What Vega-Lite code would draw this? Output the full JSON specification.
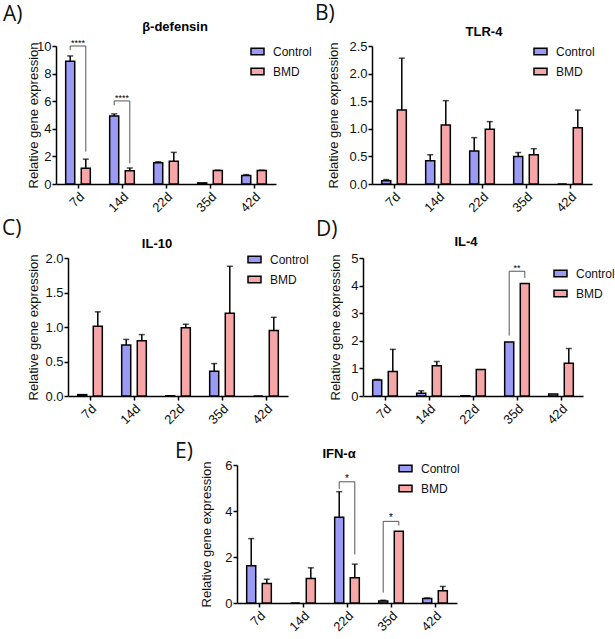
{
  "$schema": "https://vega.github.io/schema/vega-lite/v6.json",
  "padding": {"left": 2, "top": 3, "right": 0, "bottom": 0},
  "datasets": {
    "A": [
      {"day": "7d", "group": "Control", "mean": 8.9, "upper": 9.28},
      {"day": "7d", "group": "BMD", "mean": 1.15, "upper": 1.8},
      {"day": "14d", "group": "Control", "mean": 4.92, "upper": 5.08},
      {"day": "14d", "group": "BMD", "mean": 0.96, "upper": 1.16},
      {"day": "22d", "group": "Control", "mean": 1.54, "upper": 1.61},
      {"day": "22d", "group": "BMD", "mean": 1.64, "upper": 2.29},
      {"day": "35d", "group": "Control", "mean": 0.08, "upper": null},
      {"day": "35d", "group": "BMD", "mean": 0.97, "upper": 1.0},
      {"day": "42d", "group": "Control", "mean": 0.62, "upper": 0.68},
      {"day": "42d", "group": "BMD", "mean": 0.97, "upper": 1.0}
    ],
    "A_br": [
      {"id": 1, "k": 0, "day": "7d", "group": "Control", "v": 9.7},
      {"id": 1, "k": 1, "day": "7d", "group": "Control", "v": 10},
      {"id": 1, "k": 2, "day": "7d", "group": "BMD", "v": 10},
      {"id": 1, "k": 3, "day": "7d", "group": "BMD", "v": 2.35},
      {"id": 2, "k": 0, "day": "14d", "group": "Control", "v": 5.7},
      {"id": 2, "k": 1, "day": "14d", "group": "Control", "v": 6.02},
      {"id": 2, "k": 2, "day": "14d", "group": "BMD", "v": 6.02},
      {"id": 2, "k": 3, "day": "14d", "group": "BMD", "v": 1.5}
    ],
    "A_st": [
      {"day": "7d", "v": 10, "label": "****"},
      {"day": "14d", "v": 6.02, "label": "****"}
    ],
    "B": [
      {"day": "7d", "group": "Control", "mean": 0.06, "upper": 0.08},
      {"day": "7d", "group": "BMD", "mean": 1.34, "upper": 2.28},
      {"day": "14d", "group": "Control", "mean": 0.42, "upper": 0.53},
      {"day": "14d", "group": "BMD", "mean": 1.07, "upper": 1.51},
      {"day": "22d", "group": "Control", "mean": 0.6, "upper": 0.84},
      {"day": "22d", "group": "BMD", "mean": 0.99, "upper": 1.13},
      {"day": "35d", "group": "Control", "mean": 0.5, "upper": 0.57},
      {"day": "35d", "group": "BMD", "mean": 0.53, "upper": 0.64},
      {"day": "42d", "group": "Control", "mean": 0, "upper": null},
      {"day": "42d", "group": "BMD", "mean": 1.02, "upper": 1.34}
    ],
    "C": [
      {"day": "7d", "group": "Control", "mean": 0.02, "upper": null},
      {"day": "7d", "group": "BMD", "mean": 1.01, "upper": 1.22},
      {"day": "14d", "group": "Control", "mean": 0.74, "upper": 0.82},
      {"day": "14d", "group": "BMD", "mean": 0.8, "upper": 0.89},
      {"day": "22d", "group": "Control", "mean": 0.005, "upper": null},
      {"day": "22d", "group": "BMD", "mean": 0.99, "upper": 1.04},
      {"day": "35d", "group": "Control", "mean": 0.36, "upper": 0.47},
      {"day": "35d", "group": "BMD", "mean": 1.2, "upper": 1.88},
      {"day": "42d", "group": "Control", "mean": 0, "upper": null},
      {"day": "42d", "group": "BMD", "mean": 0.95, "upper": 1.14}
    ],
    "D": [
      {"day": "7d", "group": "Control", "mean": 0.58, "upper": 0.6},
      {"day": "7d", "group": "BMD", "mean": 0.89, "upper": 1.69},
      {"day": "14d", "group": "Control", "mean": 0.1, "upper": 0.19},
      {"day": "14d", "group": "BMD", "mean": 1.1, "upper": 1.25},
      {"day": "22d", "group": "Control", "mean": 0.01, "upper": null},
      {"day": "22d", "group": "BMD", "mean": 0.96, "upper": null},
      {"day": "35d", "group": "Control", "mean": 1.96, "upper": null},
      {"day": "35d", "group": "BMD", "mean": 4.08, "upper": null},
      {"day": "42d", "group": "Control", "mean": 0.07, "upper": null},
      {"day": "42d", "group": "BMD", "mean": 1.19, "upper": 1.72}
    ],
    "D_br": [
      {"id": 1, "k": 0, "day": "35d", "group": "Control", "v": 2.19},
      {"id": 1, "k": 1, "day": "35d", "group": "Control", "v": 4.52},
      {"id": 1, "k": 2, "day": "35d", "group": "BMD", "v": 4.52},
      {"id": 1, "k": 3, "day": "35d", "group": "BMD", "v": 4.28}
    ],
    "D_st": [
      {"day": "35d", "v": 4.52, "label": "**"}
    ],
    "E": [
      {"day": "7d", "group": "Control", "mean": 1.62, "upper": 2.8},
      {"day": "7d", "group": "BMD", "mean": 0.85, "upper": 1.03},
      {"day": "14d", "group": "Control", "mean": 0, "upper": null},
      {"day": "14d", "group": "BMD", "mean": 1.07, "upper": 1.53},
      {"day": "22d", "group": "Control", "mean": 3.73, "upper": 4.84},
      {"day": "22d", "group": "BMD", "mean": 1.1, "upper": 1.69},
      {"day": "35d", "group": "Control", "mean": 0.09, "upper": 0.12},
      {"day": "35d", "group": "BMD", "mean": 3.12, "upper": null},
      {"day": "42d", "group": "Control", "mean": 0.2, "upper": 0.22},
      {"day": "42d", "group": "BMD", "mean": 0.53, "upper": 0.72}
    ],
    "E_br": [
      {"id": 1, "k": 0, "day": "22d", "group": "Control", "v": 4.96},
      {"id": 1, "k": 1, "day": "22d", "group": "Control", "v": 5.27},
      {"id": 1, "k": 2, "day": "22d", "group": "BMD", "v": 5.27},
      {"id": 1, "k": 3, "day": "22d", "group": "BMD", "v": 2.11},
      {"id": 2, "k": 0, "day": "35d", "group": "Control", "v": 0.45},
      {"id": 2, "k": 1, "day": "35d", "group": "Control", "v": 3.55},
      {"id": 2, "k": 2, "day": "35d", "group": "BMD", "v": 3.55},
      {"id": 2, "k": 3, "day": "35d", "group": "BMD", "v": 3.37}
    ],
    "E_st": [
      {"day": "22d", "v": 5.27, "label": "*"},
      {"day": "35d", "v": 3.55, "label": "*"}
    ]
  },
  "vconcat": [
    {
      "hconcat": [
        {"width": 50, "height": 138, "data": {"values": []}, "mark": "point"},
        {
          "hconcat": [
            {
              "title": {"text": "A)", "dx": -53, "offset": -4},
              "width": 220, "height": 138,
              "data": {"name": "A"},
              "encoding": {"x": {"field": "day", "type": "nominal", "sort": ["7d", "14d", "22d", "35d", "42d"], "scale": {"paddingInner": 0.44, "paddingOuter": 0.22}}},
              "layer": [
                {"mark": {"type": "bar", "stroke": "black", "strokeWidth": 1.5},
                 "encoding": {
                   "xOffset": {"field": "group", "type": "nominal", "sort": ["Control", "BMD"], "scale": {"paddingInner": 0.42}},
                   "y": {"field": "mean", "type": "quantitative", "title": "Relative gene expression", "scale": {"domain": [0, 10]}, "axis": {"values": [0, 2, 4, 6, 8, 10], "labelOverlap": false, "titlePadding": -4}},
                   "color": {"field": "group", "type": "nominal", "sort": ["Control", "BMD"], "scale": {"domain": ["Control", "BMD"], "range": ["#9b9bf5", "#f6a6a6"]}, "legend": {"legendX": 194, "legendY": -2}}
                 }},
                {"transform": [{"filter": "datum.upper != null"}], "mark": {"type": "rule", "color": "black", "strokeWidth": 1.5},
                 "encoding": {"xOffset": {"field": "group", "type": "nominal", "sort": ["Control", "BMD"]}, "y": {"field": "mean", "type": "quantitative", "title": "Relative gene expression", "scale": {"domain": [0, 10]}, "axis": {"values": [0, 2, 4, 6, 8, 10], "labelOverlap": false, "titlePadding": -4}}, "y2": {"field": "upper"}}},
                {"transform": [{"filter": "datum.upper != null"}], "mark": {"type": "tick", "color": "black", "thickness": 1.5, "size": 6},
                 "encoding": {"xOffset": {"field": "group", "type": "nominal", "sort": ["Control", "BMD"]}, "y": {"field": "upper", "type": "quantitative", "title": "Relative gene expression", "scale": {"domain": [0, 10]}, "axis": {"values": [0, 2, 4, 6, 8, 10], "labelOverlap": false, "titlePadding": -4}}}},
                {"data": {"name": "A_br"}, "mark": {"type": "line", "color": "#555555", "strokeWidth": 1},
                 "encoding": {"xOffset": {"field": "group", "type": "nominal", "sort": ["Control", "BMD"]}, "y": {"field": "v", "type": "quantitative", "title": "Relative gene expression", "scale": {"domain": [0, 10]}, "axis": {"values": [0, 2, 4, 6, 8, 10], "labelOverlap": false, "titlePadding": -4}}, "detail": {"field": "id"}, "order": {"field": "k"}}},
                {"data": {"name": "A_st"}, "mark": {"type": "text", "color": "black", "baseline": "bottom", "fontSize": 9, "dy": 2},
                 "encoding": {"y": {"field": "v", "type": "quantitative", "title": "Relative gene expression", "scale": {"domain": [0, 10]}, "axis": {"values": [0, 2, 4, 6, 8, 10], "labelOverlap": false, "titlePadding": -4}}, "text": {"field": "label"}}},
                {"data": {"values": [{"gene": "β-defensin"}]}, "mark": {"type": "text", "color": "black", "fontWeight": "bold", "fontSize": 13, "baseline": "middle", "dx": 9},
                 "encoding": {"x": {"datum": "22d"}, "y": {"datum": 11.38, "type": "quantitative", "title": "Relative gene expression", "scale": {"domain": [0, 10]}, "axis": {"values": [0, 2, 4, 6, 8, 10], "labelOverlap": false, "titlePadding": -4}}, "text": {"field": "gene"}}}
              ]
            },
            {
              "title": {"text": "B)", "dx": -57, "offset": 2},
              "width": 220, "height": 138,
              "data": {"name": "B"},
              "encoding": {"x": {"field": "day", "type": "nominal", "sort": ["7d", "14d", "22d", "35d", "42d"], "scale": {"paddingInner": 0.44, "paddingOuter": 0.22}}},
              "layer": [
                {"mark": {"type": "bar", "stroke": "black", "strokeWidth": 1.5},
                 "encoding": {
                   "xOffset": {"field": "group", "type": "nominal", "sort": ["Control", "BMD"], "scale": {"paddingInner": 0.42}},
                   "y": {"field": "mean", "type": "quantitative", "title": "Relative gene expression", "scale": {"domain": [0, 2.5]}, "axis": {"values": [0, 0.5, 1, 1.5, 2, 2.5], "format": ".1f", "labelOverlap": false, "titlePadding": 8}},
                   "color": {"field": "group", "type": "nominal", "sort": ["Control", "BMD"], "scale": {"domain": ["Control", "BMD"], "range": ["#9b9bf5", "#f6a6a6"]}, "legend": {"legendX": 161, "legendY": -2}}
                 }},
                {"transform": [{"filter": "datum.upper != null"}], "mark": {"type": "rule", "color": "black", "strokeWidth": 1.5},
                 "encoding": {"xOffset": {"field": "group", "type": "nominal", "sort": ["Control", "BMD"]}, "y": {"field": "mean", "type": "quantitative", "title": "Relative gene expression", "scale": {"domain": [0, 2.5]}, "axis": {"values": [0, 0.5, 1, 1.5, 2, 2.5], "format": ".1f", "labelOverlap": false, "titlePadding": 8}}, "y2": {"field": "upper"}}},
                {"transform": [{"filter": "datum.upper != null"}], "mark": {"type": "tick", "color": "black", "thickness": 1.5, "size": 6},
                 "encoding": {"xOffset": {"field": "group", "type": "nominal", "sort": ["Control", "BMD"]}, "y": {"field": "upper", "type": "quantitative", "title": "Relative gene expression", "scale": {"domain": [0, 2.5]}, "axis": {"values": [0, 0.5, 1, 1.5, 2, 2.5], "format": ".1f", "labelOverlap": false, "titlePadding": 8}}}},
                {"data": {"values": [{"gene": "TLR-4"}]}, "mark": {"type": "text", "color": "black", "fontWeight": "bold", "fontSize": 13, "baseline": "middle", "dx": 2},
                 "encoding": {"x": {"datum": "22d"}, "y": {"datum": 2.75, "type": "quantitative", "title": "Relative gene expression", "scale": {"domain": [0, 2.5]}, "axis": {"values": [0, 0.5, 1, 1.5, 2, 2.5], "format": ".1f", "labelOverlap": false, "titlePadding": 8}}, "text": {"field": "gene"}}}
              ]
            }
          ],
          "spacing": 96,
          "bounds": "flush",
          "resolve": {"scale": {"color": "independent"}, "legend": {"color": "independent"}}
        }
      ],
      "spacing": 4,
      "bounds": "flush",
      "resolve": {"scale": {"color": "independent"}, "legend": {"color": "independent"}}
    },
    {
      "vconcat": [
        {
          "hconcat": [
            {"width": 62, "height": 138, "data": {"values": []}, "mark": "point"},
            {
              "hconcat": [
                {
                  "title": {"text": "C)", "dx": -66, "offset": -1},
                  "width": 220, "height": 138,
                  "data": {"name": "C"},
                  "encoding": {"x": {"field": "day", "type": "nominal", "sort": ["7d", "14d", "22d", "35d", "42d"], "scale": {"paddingInner": 0.44, "paddingOuter": 0.22}}},
                  "layer": [
                    {"mark": {"type": "bar", "stroke": "black", "strokeWidth": 1.5},
                     "encoding": {
                       "xOffset": {"field": "group", "type": "nominal", "sort": ["Control", "BMD"], "scale": {"paddingInner": 0.42}},
                       "y": {"field": "mean", "type": "quantitative", "title": "Relative gene expression", "scale": {"domain": [0, 2]}, "axis": {"values": [0, 0.5, 1, 1.5, 2], "format": ".1f", "labelOverlap": false, "titlePadding": 4}},
                       "color": {"field": "group", "type": "nominal", "sort": ["Control", "BMD"], "scale": {"domain": ["Control", "BMD"], "range": ["#9b9bf5", "#f6a6a6"]}, "legend": {"legendX": 179, "legendY": -6}}
                     }},
                    {"transform": [{"filter": "datum.upper != null"}], "mark": {"type": "rule", "color": "black", "strokeWidth": 1.5},
                     "encoding": {"xOffset": {"field": "group", "type": "nominal", "sort": ["Control", "BMD"]}, "y": {"field": "mean", "type": "quantitative", "title": "Relative gene expression", "scale": {"domain": [0, 2]}, "axis": {"values": [0, 0.5, 1, 1.5, 2], "format": ".1f", "labelOverlap": false, "titlePadding": 4}}, "y2": {"field": "upper"}}},
                    {"transform": [{"filter": "datum.upper != null"}], "mark": {"type": "tick", "color": "black", "thickness": 1.5, "size": 6},
                     "encoding": {"xOffset": {"field": "group", "type": "nominal", "sort": ["Control", "BMD"]}, "y": {"field": "upper", "type": "quantitative", "title": "Relative gene expression", "scale": {"domain": [0, 2]}, "axis": {"values": [0, 0.5, 1, 1.5, 2], "format": ".1f", "labelOverlap": false, "titlePadding": 4}}}},
                    {"data": {"values": [{"gene": "IL-10"}]}, "mark": {"type": "text", "color": "black", "fontWeight": "bold", "fontSize": 13, "baseline": "middle", "dx": -21},
                     "encoding": {"x": {"datum": "22d"}, "y": {"datum": 2.21, "type": "quantitative", "title": "Relative gene expression", "scale": {"domain": [0, 2]}, "axis": {"values": [0, 0.5, 1, 1.5, 2], "format": ".1f", "labelOverlap": false, "titlePadding": 4}}, "text": {"field": "gene"}}}
                  ]
                },
                {
                  "title": {"text": "D)", "dx": -47, "offset": -4},
                  "width": 220, "height": 138,
                  "data": {"name": "D"},
                  "encoding": {"x": {"field": "day", "type": "nominal", "sort": ["7d", "14d", "22d", "35d", "42d"], "scale": {"paddingInner": 0.44, "paddingOuter": 0.22}}},
                  "layer": [
                    {"mark": {"type": "bar", "stroke": "black", "strokeWidth": 1.5},
                     "encoding": {
                       "xOffset": {"field": "group", "type": "nominal", "sort": ["Control", "BMD"], "scale": {"paddingInner": 0.42}},
                       "y": {"field": "mean", "type": "quantitative", "title": "Relative gene expression", "scale": {"domain": [0, 5]}, "axis": {"values": [0, 1, 2, 3, 4, 5], "labelOverlap": false, "titlePadding": 8}},
                       "color": {"field": "group", "type": "nominal", "sort": ["Control", "BMD"], "scale": {"domain": ["Control", "BMD"], "range": ["#9b9bf5", "#f6a6a6"]}, "legend": {"legendX": 190, "legendY": 8}}
                     }},
                    {"transform": [{"filter": "datum.upper != null"}], "mark": {"type": "rule", "color": "black", "strokeWidth": 1.5},
                     "encoding": {"xOffset": {"field": "group", "type": "nominal", "sort": ["Control", "BMD"]}, "y": {"field": "mean", "type": "quantitative", "title": "Relative gene expression", "scale": {"domain": [0, 5]}, "axis": {"values": [0, 1, 2, 3, 4, 5], "labelOverlap": false, "titlePadding": 8}}, "y2": {"field": "upper"}}},
                    {"transform": [{"filter": "datum.upper != null"}], "mark": {"type": "tick", "color": "black", "thickness": 1.5, "size": 6},
                     "encoding": {"xOffset": {"field": "group", "type": "nominal", "sort": ["Control", "BMD"]}, "y": {"field": "upper", "type": "quantitative", "title": "Relative gene expression", "scale": {"domain": [0, 5]}, "axis": {"values": [0, 1, 2, 3, 4, 5], "labelOverlap": false, "titlePadding": 8}}}},
                    {"data": {"name": "D_br"}, "mark": {"type": "line", "color": "#555555", "strokeWidth": 1},
                     "encoding": {"xOffset": {"field": "group", "type": "nominal", "sort": ["Control", "BMD"]}, "y": {"field": "v", "type": "quantitative", "title": "Relative gene expression", "scale": {"domain": [0, 5]}, "axis": {"values": [0, 1, 2, 3, 4, 5], "labelOverlap": false, "titlePadding": 8}}, "detail": {"field": "id"}, "order": {"field": "k"}}},
                    {"data": {"name": "D_st"}, "mark": {"type": "text", "color": "black", "baseline": "bottom", "fontSize": 9, "dy": 2},
                     "encoding": {"y": {"field": "v", "type": "quantitative", "title": "Relative gene expression", "scale": {"domain": [0, 5]}, "axis": {"values": [0, 1, 2, 3, 4, 5], "labelOverlap": false, "titlePadding": 8}}, "text": {"field": "label"}}},
                    {"data": {"values": [{"gene": "IL-4"}]}, "mark": {"type": "text", "color": "black", "fontWeight": "bold", "fontSize": 13, "baseline": "middle", "dx": -7},
                     "encoding": {"x": {"datum": "22d"}, "y": {"datum": 5.59, "type": "quantitative", "title": "Relative gene expression", "scale": {"domain": [0, 5]}, "axis": {"values": [0, 1, 2, 3, 4, 5], "labelOverlap": false, "titlePadding": 8}}, "text": {"field": "gene"}}}
                  ]
                }
              ],
              "spacing": 75,
              "bounds": "flush",
              "resolve": {"scale": {"color": "independent"}, "legend": {"color": "independent"}}
            }
          ],
          "spacing": 4,
          "bounds": "flush",
          "resolve": {"scale": {"color": "independent"}, "legend": {"color": "independent"}}
        },
        {
          "hconcat": [
            {"width": 231, "height": 138, "data": {"values": []}, "mark": "point"},
            {
              "title": {"text": "E)", "dx": -62, "offset": -14},
              "width": 220, "height": 138,
              "data": {"name": "E"},
              "encoding": {"x": {"field": "day", "type": "nominal", "sort": ["7d", "14d", "22d", "35d", "42d"], "scale": {"paddingInner": 0.44, "paddingOuter": 0.22}}},
              "layer": [
                {"mark": {"type": "bar", "stroke": "black", "strokeWidth": 1.5},
                 "encoding": {
                   "xOffset": {"field": "group", "type": "nominal", "sort": ["Control", "BMD"], "scale": {"paddingInner": 0.42}},
                   "y": {"field": "mean", "type": "quantitative", "title": "Relative gene expression", "scale": {"domain": [0, 6]}, "axis": {"values": [0, 2, 4, 6], "labelOverlap": false, "titlePadding": 11}},
                   "color": {"field": "group", "type": "nominal", "sort": ["Control", "BMD"], "scale": {"domain": ["Control", "BMD"], "range": ["#9b9bf5", "#f6a6a6"]}, "legend": {"legendX": 161, "legendY": -4}}
                 }},
                {"transform": [{"filter": "datum.upper != null"}], "mark": {"type": "rule", "color": "black", "strokeWidth": 1.5},
                 "encoding": {"xOffset": {"field": "group", "type": "nominal", "sort": ["Control", "BMD"]}, "y": {"field": "mean", "type": "quantitative", "title": "Relative gene expression", "scale": {"domain": [0, 6]}, "axis": {"values": [0, 2, 4, 6], "labelOverlap": false, "titlePadding": 11}}, "y2": {"field": "upper"}}},
                {"transform": [{"filter": "datum.upper != null"}], "mark": {"type": "tick", "color": "black", "thickness": 1.5, "size": 6},
                 "encoding": {"xOffset": {"field": "group", "type": "nominal", "sort": ["Control", "BMD"]}, "y": {"field": "upper", "type": "quantitative", "title": "Relative gene expression", "scale": {"domain": [0, 6]}, "axis": {"values": [0, 2, 4, 6], "labelOverlap": false, "titlePadding": 11}}}},
                {"data": {"name": "E_br"}, "mark": {"type": "line", "color": "#555555", "strokeWidth": 1},
                 "encoding": {"xOffset": {"field": "group", "type": "nominal", "sort": ["Control", "BMD"]}, "y": {"field": "v", "type": "quantitative", "title": "Relative gene expression", "scale": {"domain": [0, 6]}, "axis": {"values": [0, 2, 4, 6], "labelOverlap": false, "titlePadding": 11}}, "detail": {"field": "id"}, "order": {"field": "k"}}},
                {"data": {"name": "E_st"}, "mark": {"type": "text", "color": "black", "baseline": "bottom", "fontSize": 10, "dy": 2},
                 "encoding": {"y": {"field": "v", "type": "quantitative", "title": "Relative gene expression", "scale": {"domain": [0, 6]}, "axis": {"values": [0, 2, 4, 6], "labelOverlap": false, "titlePadding": 11}}, "text": {"field": "label"}}},
                {"data": {"values": [{"gene": "IFN-α"}]}, "mark": {"type": "text", "color": "black", "fontWeight": "bold", "fontSize": 13, "baseline": "middle", "dx": -8},
                 "encoding": {"x": {"datum": "22d"}, "y": {"datum": 6.49, "type": "quantitative", "title": "Relative gene expression", "scale": {"domain": [0, 6]}, "axis": {"values": [0, 2, 4, 6], "labelOverlap": false, "titlePadding": 11}}, "text": {"field": "gene"}}}
              ]
            }
          ],
          "spacing": 4,
          "bounds": "flush",
          "resolve": {"scale": {"color": "independent"}, "legend": {"color": "independent"}}
        }
      ],
      "spacing": 13,
      "resolve": {"scale": {"color": "independent"}, "legend": {"color": "independent"}}
    }
  ],
  "spacing": 2,
  "resolve": {"scale": {"color": "independent"}, "legend": {"color": "independent"}},
  "config": {
    "font": "Liberation Sans",
    "view": {"stroke": null},
    "axis": {"domainColor": "black", "domainWidth": 1.5, "tickColor": "black", "tickWidth": 1.5, "tickSize": 4, "labelPadding": 1, "labelOverlap": false, "labelColor": "#111111", "labelFontSize": 13, "titleFontSize": 13, "titleFontWeight": "normal", "titleColor": "#111111", "grid": false},
    "axisY": {"labelOverlap": false},
    "axisX": {"labelAngle": -45, "title": null, "labelPadding": 2},
    "title": {"font": "Open Sans", "fontSize": 21, "fontWeight": "normal", "anchor": "start", "frame": "group", "color": "#111111"},
    "legend": {"title": null, "orient": "none", "symbolType": "M-1,-0.5H1V0.5H-1Z", "symbolSize": 169, "symbolStrokeColor": "black", "symbolStrokeWidth": 1.5, "labelFontSize": 12, "labelColor": "#111111", "rowPadding": 6, "labelOffset": 8}
  }
}
